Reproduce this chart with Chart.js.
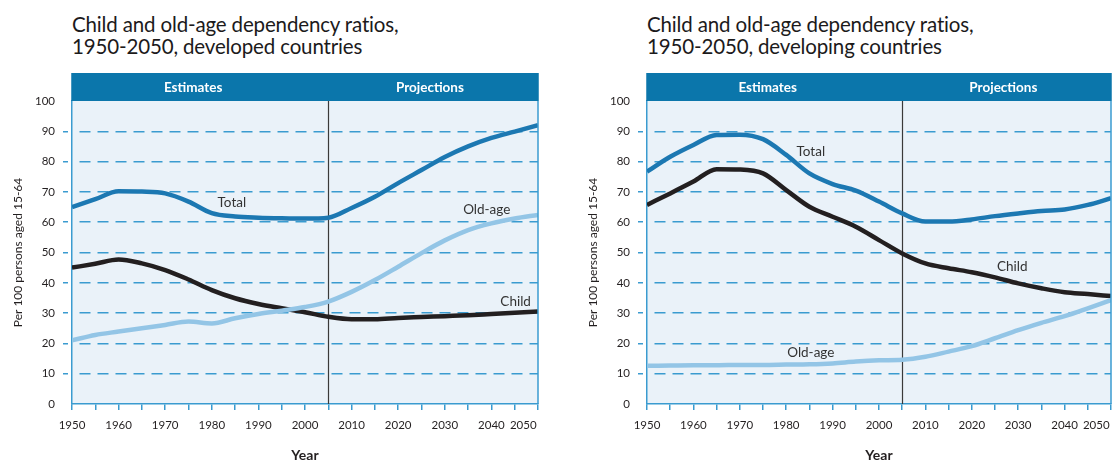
<!DOCTYPE html>
<html>
<head>
<meta charset="utf-8">
<script src="https://cdn.jsdelivr.net/npm/chart.js@4.4.1/dist/chart.umd.min.js"></script>
<style>
body{margin:0;background:#fff;width:1114px;height:464px;overflow:hidden;position:relative;font-family:Lato,sans-serif;}
.title{position:absolute;top:13px;font-size:20.5px;line-height:22px;color:#1c1a1b;white-space:nowrap;letter-spacing:-0.15px;}
.box{position:absolute;top:0;height:464px;}
</style>
</head>
<body>
<div class="title" style="left:72px">Child and old-age dependency ratios,<br>1950-2050, developed countries</div>
<div class="title" style="left:647px">Child and old-age dependency ratios,<br>1950-2050, developing countries</div>
<div class="box" style="left:0;width:557px"><canvas id="chartDeveloped"></canvas></div>
<div class="box" style="left:575px;width:539px"><canvas id="chartDeveloping"></canvas></div>
<script>
// years on the x axis
const years = [1950,1955,1960,1965,1970,1975,1980,1985,1990,1995,2000,2005,2010,2015,2020,2025,2030,2035,2040,2045,2050];
const xTickYears = [1950,1960,1970,1980,1990,2000,2010,2020,2030,2040,2050];
const yTicks = [0,10,20,30,40,50,60,70,80,90,100];

// developed countries
const totalDeveloped  = [65,67.6,70.2,70.1,69.5,66.8,63,61.9,61.5,61.3,61.2,61.5,64.7,68.4,72.9,77.2,81.5,85,87.8,89.9,92];
const oldAgeDeveloped = [21,22.8,23.9,25,26.1,27.2,26.6,28.3,29.7,30.8,32,33.8,37,40.9,45.3,49.8,54,57.4,59.6,61.2,62.4];
const childDeveloped  = [45,46.3,47.7,46.4,44.2,41.1,37.6,34.9,33,31.6,30.3,28.8,28,28,28.4,28.7,29,29.3,29.7,30.1,30.5];

// developing countries
const totalDeveloping  = [76.7,81.6,85.5,88.8,88.9,87.4,82.2,76.1,72.6,70.4,66.8,62.9,60.2,60.2,60.9,62,62.9,63.7,64.2,65.7,67.9];
const oldAgeDeveloping = [12.6,12.7,12.8,12.8,12.9,12.9,13,13.1,13.4,14,14.4,14.6,15.6,17.3,19.1,21.7,24.4,26.8,29,31.6,34.3];
const childDeveloping  = [65.7,69.5,73.4,77.5,77.4,76.1,70.6,65.1,61.8,58.5,54.1,49.7,46.4,44.8,43.5,41.8,39.8,38.2,36.9,36.3,35.6];

const seriesNames = ['Total','Old-age','Child'];
const periodNames = ['Estimates','Projections'];
const splitYear = 2005;

const blue = '#3a9bd0';
const headBlue = '#0b76ab';
const plotBg = '#eaf2f9';
const textColor = '#231f20';
const lineColors = {'Total':'#1c78b2','Old-age':'#93c5e6','Child':'#231f20'};

// where the curve names sit, in [year, value]
const notesDeveloped  = [['Total',1984.3,66.3],['Old-age',2039,64],['Child',2045.2,33.7]];
const notesDeveloping = [['Total',1985.3,83.2],['Child',2028.7,45.2],['Old-age',1985.3,16.8]];

const decor = {
  id: 'decor',
  beforeDraw(chart){
    const {ctx, chartArea:a} = chart;
    ctx.save();
    ctx.fillStyle = plotBg;
    ctx.fillRect(a.left, a.top, a.right - a.left, a.bottom - a.top);
    ctx.restore();
  },
  beforeDatasetsDraw(chart){
    const {ctx, chartArea:a, scales:{x}} = chart;
    const px = Math.round(x.getPixelForValue(splitYear)) + 0.5;
    ctx.save();
    ctx.strokeStyle = '#3a3a3a';
    ctx.lineWidth = 1.2;
    ctx.beginPath();
    ctx.moveTo(px, a.top);
    ctx.lineTo(px, a.bottom);
    ctx.stroke();
    ctx.restore();
  },
  afterDraw(chart, args, opts){
    const {ctx, chartArea:a, scales:{x, y}} = chart;
    ctx.save();
    // right border
    ctx.strokeStyle = blue;
    ctx.lineWidth = 1.5;
    ctx.beginPath();
    ctx.moveTo(a.right, a.top);
    ctx.lineTo(a.right, a.bottom);
    ctx.stroke();
    // header band
    ctx.fillStyle = headBlue;
    ctx.fillRect(a.left - 0.75, a.top - 28, a.right - a.left + 1.5, 28);
    ctx.fillStyle = '#ffffff';
    ctx.font = 'bold 13.5px Lato';
    ctx.textAlign = 'center';
    ctx.textBaseline = 'middle';
    ctx.fillText(periodNames[0], x.getPixelForValue(1976), a.top - 13.5);
    ctx.fillText(periodNames[1], x.getPixelForValue(2026.8), a.top - 13.5);
    // curve names
    ctx.fillStyle = '#333333';
    ctx.font = '13.5px Lato';
    opts.notes.forEach(n => {
      ctx.fillText(n[0], x.getPixelForValue(n[1]), y.getPixelForValue(n[2]));
    });
    ctx.restore();
  }
};

function makeChart(id, total, oldAge, child, notes, padRight){
  const values = {'Total': total, 'Old-age': oldAge, 'Child': child};
  // old-age first so it is drawn on top
  const order = ['Old-age','Child','Total'];
  const datasets = order.map(name => ({
    label: name,
    data: years.map((yr, i) => ({x: yr, y: values[name][i]})),
    borderColor: lineColors[name],
    borderWidth: 4.5,
    pointRadius: 0,
    tension: 0.4,
    cubicInterpolationMode: 'monotone',
    borderCapStyle: 'butt',
    fill: false
  }));

  new Chart(document.getElementById(id), {
    type: 'line',
    data: {datasets: datasets},
    options: {
      responsive: true,
      maintainAspectRatio: false,
      animation: false,
      layout: {padding: {top: 101, right: padRight, bottom: 0, left: 0}},
      plugins: {
        legend: {display: false},
        tooltip: {enabled: false},
        decor: {notes: notes}
      },
      scales: {
        x: {
          type: 'linear',
          min: 1950,
          max: 2050,
          afterBuildTicks: s => { s.ticks = years.map(v => ({value: v})); },
          afterFit: s => { s.height = 60; s.paddingLeft = 0; s.paddingRight = 0; },
          ticks: {
            autoSkip: false,
            maxRotation: 0,
            padding: 8,
            color: textColor,
            font: {family: 'Lato', size: 11.5},
            callback: v => xTickYears.includes(v) ? (v === 2050 ? '2050          ' : String(v)) : ''
          },
          grid: {
            drawOnChartArea: false,
            drawTicks: true,
            tickLength: 6,
            color: blue,
            lineWidth: 1.5
          },
          border: {color: blue, width: 1.5},
          title: {
            display: true,
            text: 'Year',
            color: textColor,
            font: {family: 'Lato', size: 14, weight: 'bold'},
            padding: {top: 0, bottom: 0}
          }
        },
        y: {
          min: 0,
          max: 100,
          afterBuildTicks: s => { s.ticks = yTicks.map(v => ({value: v})); },
          afterFit: s => { s.width = 72; },
          ticks: {
            padding: 8,
            color: textColor,
            font: {family: 'Lato', size: 11.5}
          },
          grid: {
            color: c => (c.tick && (c.tick.value === 0 || c.tick.value === 100)) ? 'rgba(0,0,0,0)' : blue,
            lineWidth: 1.5,
            tickLength: 9,
            tickBorderDash: [5, 10]
          },
          border: {color: blue, width: 1.5, dash: [11, 7], dashOffset: 11},
          title: {
            display: true,
            text: 'Per 100 persons aged 15-64',
            color: textColor,
            font: {family: 'Lato', size: 12},
            padding: {top: 11, bottom: 0}
          }
        }
      }
    },
    plugins: [decor]
  });
}

makeChart('chartDeveloped', totalDeveloped, oldAgeDeveloped, childDeveloped, notesDeveloped, 19);
makeChart('chartDeveloping', totalDeveloping, oldAgeDeveloping, childDeveloping, notesDeveloping, 3);
</script>
</body>
</html>
